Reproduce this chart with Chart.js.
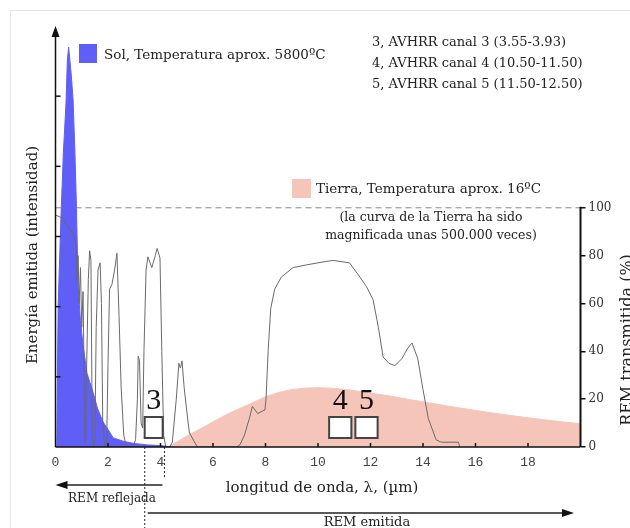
<!DOCTYPE html>
<html lang="es">
<head>
<meta charset="utf-8">
<title>Energía emitida y REM transmitida</title>
<script src="https://cdn.jsdelivr.net/npm/chart.js@4.4.0/dist/chart.umd.min.js"></script>
<style>
    html, body { margin: 0; padding: 0; background: #fff; }
    #marco { position: absolute; left: 10px; top: 10px; width: 640px; height: 540px; border: 1px solid #e6e6e6; }
    #espectroChart { position: absolute; left: 0; top: 0; }
</style>
</head>
<body>
<div id="marco"></div>
<canvas id="espectroChart" width="630" height="528"></canvas>
<script>
// Datos
// Sol (intensidad, eje izquierdo en unidades arbitrarias)
const solX = [0, 0.05, 0.1, 0.2, 0.3, 0.4, 0.45, 0.5, 0.55, 0.6, 0.67, 0.74, 0.8, 0.86, 0.95, 1.05, 1.2, 1.43, 1.6, 1.81, 2.0, 2.2, 2.6, 3.0, 3.5, 4.0, 4.5];
const solY = [0, 0, 2.0, 3.2, 4.2, 4.9, 5.5, 5.7, 5.5, 5.3, 4.95, 4.2, 3.4, 2.3, 1.8, 1.45, 1.05, 0.78, 0.55, 0.36, 0.25, 0.13, 0.08, 0.05, 0.03, 0.02, 0];

// Tierra (magnificada, en unidades del eje derecho)
const tierraX = [4.28, 4.6, 5, 5.5, 6, 6.5, 7, 7.5, 8, 8.5, 9, 9.5, 10, 10.5, 11, 11.5, 12, 12.5, 13, 13.5, 14, 15, 16, 17, 18, 19, 20];
const tierraY = [0, 2, 4.5, 7.5, 10.5, 13.5, 16, 18.5, 21, 22.8, 24, 24.6, 24.8, 24.6, 24.1, 23.4, 22.6, 21.7, 20.8, 19.8, 18.9, 17, 15.3, 13.7, 12.2, 10.9, 9.7];

// REM transmitida por la atmósfera (%)
const transX = [0, 0.2, 0.4, 0.55, 0.7, 0.78, 0.82, 0.86, 0.9, 0.95, 1.0, 1.05, 1.1, 1.13, 1.18, 1.25, 1.3, 1.35, 1.4, 1.45, 1.5, 1.55, 1.62, 1.7, 1.75, 1.8, 1.87, 1.95, 2.0, 2.06, 2.15, 2.25, 2.34, 2.42, 2.5, 2.6, 2.7, 2.95, 3.05, 3.12, 3.15, 3.2, 3.26, 3.32, 3.37, 3.45, 3.52, 3.67, 3.8, 3.87, 3.98, 4.05, 4.12, 4.2, 4.35, 4.45, 4.6, 4.7, 4.76, 4.82, 4.9, 5.0, 5.1, 5.4, 6.9, 7.03, 7.2, 7.4, 7.5, 7.7, 7.98, 8.02, 8.1, 8.2, 8.35, 8.6, 9.05, 9.5, 10.0, 10.57, 11.2, 11.6, 11.85, 12.1, 12.3, 12.48, 12.7, 12.93, 13.2, 13.4, 13.58, 13.8, 14.0, 14.2, 14.5, 14.7, 15.35, 15.4];
const transY = [97, 96, 93, 91, 88, 84, 70, 80, 60, 75, 50, 65, 20, 2, 30, 70, 82, 78, 5, 0, 3, 50, 74, 77, 60, 10, 0, 2, 35, 66, 68, 74, 81, 55, 25, 5, 0, 0, 3, 20, 38, 36, 10, 8, 40, 74, 79.5, 75, 80, 83, 79, 40, 5, 0, 0, 2, 20, 35, 33, 36, 25, 15, 6, 0, 0, 1, 5, 12.5, 17, 14, 15.5, 20, 40, 58, 66, 71, 75, 76, 77, 78, 77, 71, 67, 61.5, 50, 37.6, 35, 34, 37, 41, 43.5, 37, 24, 12, 3, 2, 2, 0];

// Ejes
const xTicks = [0, 2, 4, 6, 8, 10, 12, 14, 16, 18];
const transTicks = [0, 20, 40, 60, 80, 100];
const energiaTicks = [1, 2, 3, 4, 5];

// Canales AVHRR (µm)
const canales = ['3', '4', '5'];
const canalMin = [3.55, 10.50, 11.50];
const canalMax = [3.93, 11.50, 12.50];
const leyendaCanales = ['3, AVHRR canal 3 (3.55-3.93)', '4, AVHRR canal 4 (10.50-11.50)', '5, AVHRR canal 5 (11.50-12.50)'];

// Límites REM reflejada / emitida (µm)
const limiteEmitida = 3.4;
const limiteReflejada = 4.15;

const AZUL = '#5f5ff7';
const ROSA = '#f6c5ba';
const SERIF = '"DejaVu Serif", serif';

function puntos(xs, ys) {
    return xs.map((x, i) => ({ x: x, y: ys[i] }));
}

function flecha(ctx, x1, y, x2) {
    // línea horizontal con punta en x2
    const dir = x2 > x1 ? 1 : -1;
    ctx.beginPath();
    ctx.moveTo(x1, y);
    ctx.lineTo(x2 - dir * 8, y);
    ctx.stroke();
    ctx.beginPath();
    ctx.moveTo(x2, y);
    ctx.lineTo(x2 - dir * 12, y - 4);
    ctx.lineTo(x2 - dir * 12, y + 4);
    ctx.closePath();
    ctx.fill();
}

// Plugin de decoraciones: ejes, cajas de canales, leyendas y textos
const decoraciones = {
    id: 'decoraciones',
    afterDraw(chart) {
        const { ctx, chartArea: a, scales } = chart;
        const x = scales.x, y = scales.y, y2 = scales.y2;
        ctx.save();
        ctx.strokeStyle = '#111';
        ctx.fillStyle = '#111';
        ctx.lineWidth = 1.5;

        // eje x
        ctx.beginPath();
        ctx.moveTo(a.left, a.bottom);
        ctx.lineTo(a.right, a.bottom);
        ctx.stroke();
        xTicks.slice(1).forEach(v => {
            const px = x.getPixelForValue(v);
            ctx.beginPath();
            ctx.moveTo(px, a.bottom);
            ctx.lineTo(px, a.bottom - 4);
            ctx.stroke();
        });

        // eje izquierdo con flecha
        ctx.beginPath();
        ctx.moveTo(a.left, a.bottom);
        ctx.lineTo(a.left, a.top + 8);
        ctx.stroke();
        ctx.beginPath();
        ctx.moveTo(a.left, a.top);
        ctx.lineTo(a.left - 4, a.top + 11);
        ctx.lineTo(a.left + 4, a.top + 11);
        ctx.closePath();
        ctx.fill();
        energiaTicks.forEach(v => {
            const py = y.getPixelForValue(v);
            ctx.beginPath();
            ctx.moveTo(a.left, py);
            ctx.lineTo(a.left + 5, py);
            ctx.stroke();
        });

        // eje derecho (0-100 %)
        ctx.lineWidth = 2;
        ctx.beginPath();
        ctx.moveTo(a.right, y2.getPixelForValue(0));
        ctx.lineTo(a.right, y2.getPixelForValue(100) - 1);
        ctx.stroke();

        // cajas de canales
        ctx.lineWidth = 2;
        ctx.strokeStyle = '#444';
        ctx.font = '30px "Liberation Serif", serif';
        ctx.textAlign = 'center';
        ctx.textBaseline = 'alphabetic';
        canales.forEach((c, i) => {
            const p1 = x.getPixelForValue(canalMin[i]);
            const p2 = x.getPixelForValue(canalMax[i]);
            const ancho = Math.max(p2 - p1 - 4, 18);
            const cx = (p1 + p2) / 2 - (p2 - p1 > 18 ? 4 : 0);
            const top = a.bottom - 30;
            ctx.fillStyle = '#fff';
            ctx.fillRect(cx - ancho / 2, top, ancho, 21);
            ctx.strokeRect(cx - ancho / 2, top, ancho, 21);
            ctx.fillStyle = '#111';
            ctx.fillText(c, cx, top - 8);
        });

        // leyenda Sol / Tierra
        ctx.textAlign = 'left';
        ctx.textBaseline = 'middle';
        ctx.font = '13.5px ' + SERIF;
        ctx.fillStyle = AZUL;
        ctx.fillRect(79, 44, 18, 19);
        ctx.fillStyle = '#222';
        ctx.fillText('Sol, Temperatura aprox. 5800ºC', 104, 55);
        ctx.fillStyle = ROSA;
        ctx.fillRect(292, 179, 19, 19);
        ctx.fillStyle = '#222';
        ctx.fillText('Tierra, Temperatura aprox. 16ºC', 316, 189);

        ctx.font = '13px ' + SERIF;
        leyendaCanales.forEach((t, i) => ctx.fillText(t, 372, 43 + i * 21));

        ctx.textAlign = 'center';
        ctx.font = '12.5px ' + SERIF;
        ctx.fillText('(la curva de la Tierra ha sido', 431, 218);
        ctx.fillText('magnificada unas 500.000 veces)', 431, 236);

        // títulos de ejes
        ctx.font = '15px ' + SERIF;
        ctx.fillText('longitud de onda, λ, (µm)', 322, 488);
        ctx.save();
        ctx.translate(33, 255);
        ctx.rotate(-Math.PI / 2);
        ctx.fillText('Energía emitida (intensidad)', 0, 0);
        ctx.restore();
        ctx.save();
        ctx.translate(628, 340);
        ctx.rotate(-Math.PI / 2);
        ctx.font = '16px ' + SERIF;
        ctx.fillText('REM transmitida (%)', 0, 0);
        ctx.restore();

        // REM reflejada / emitida
        const pe = x.getPixelForValue(limiteEmitida);
        const pr = x.getPixelForValue(limiteReflejada);
        ctx.lineWidth = 1;
        ctx.strokeStyle = '#222';
        ctx.setLineDash([2, 2]);
        ctx.beginPath();
        ctx.moveTo(pe, a.bottom);
        ctx.lineTo(pe, 528);
        ctx.moveTo(pr, a.bottom);
        ctx.lineTo(pr, 478);
        ctx.stroke();
        ctx.setLineDash([]);
        ctx.lineWidth = 1.5;
        ctx.fillStyle = '#111';
        flecha(ctx, pr - 2, 485, a.left);
        flecha(ctx, pe + 3, 513, 574);
        ctx.font = '12px ' + SERIF;
        ctx.fillStyle = '#222';
        ctx.fillText('REM reflejada', 112, 499);
        ctx.font = '13px ' + SERIF;
        ctx.fillText('REM emitida', 367, 523);
        ctx.restore();
    }
};

const ctx = document.getElementById('espectroChart');
new Chart(ctx, {
    type: 'line',
    data: {
        datasets: [{
            label: 'REM transmitida',
            data: puntos(transX, transY),
            yAxisID: 'y2',
            borderColor: '#6a6a6a',
            borderWidth: 1,
            pointRadius: 0,
            fill: false,
            order: 0
        }, {
            label: 'Sol',
            data: puntos(solX, solY),
            yAxisID: 'y',
            borderColor: AZUL,
            backgroundColor: AZUL,
            borderWidth: 1,
            pointRadius: 0,
            fill: 'origin',
            order: 1
        }, {
            label: 'Tierra',
            data: puntos(tierraX, tierraY),
            yAxisID: 'y2',
            borderColor: ROSA,
            backgroundColor: ROSA,
            borderWidth: 1,
            pointRadius: 0,
            fill: 'origin',
            order: 2
        }, {
            label: '100 %',
            data: puntos([0, 20], [100, 100]),
            yAxisID: 'y2',
            borderColor: '#888',
            borderWidth: 1,
            borderDash: [6, 4],
            pointRadius: 0,
            fill: false,
            order: 3
        }]
    },
    options: {
        responsive: false,
        animation: false,
        devicePixelRatio: 1,
        layout: { padding: { top: 26, left: 0, right: 0, bottom: 0 } },
        plugins: {
            legend: { display: false },
            tooltip: { enabled: false }
        },
        scales: {
            x: {
                type: 'linear',
                min: 0,
                max: 20,
                afterFit: s => { s.height = 81; },
                afterBuildTicks: s => { s.ticks = xTicks.map(v => ({ value: v })); },
                grid: { display: false, drawTicks: false },
                border: { display: false },
                ticks: {
                    padding: 8,
                    maxRotation: 0,
                    color: '#444',
                    font: { family: '"Liberation Mono", monospace', size: 13 }
                }
            },
            y: {
                position: 'left',
                min: 0,
                max: 6,
                afterFit: s => { s.width = 55.5; },
                ticks: { display: false },
                grid: { display: false },
                border: { display: false }
            },
            y2: {
                position: 'right',
                min: 0,
                max: 176,
                afterFit: s => { s.width = 49.5; },
                afterBuildTicks: s => { s.ticks = transTicks.map(v => ({ value: v })); },
                grid: { drawOnChartArea: false, tickLength: 5, color: '#111', lineWidth: 1.5 },
                border: { display: false },
                ticks: {
                    padding: 3,
                    color: '#333',
                    font: { family: SERIF, size: 12 }
                }
            }
        }
    },
    plugins: [decoraciones]
});
</script>
</body>
</html>
